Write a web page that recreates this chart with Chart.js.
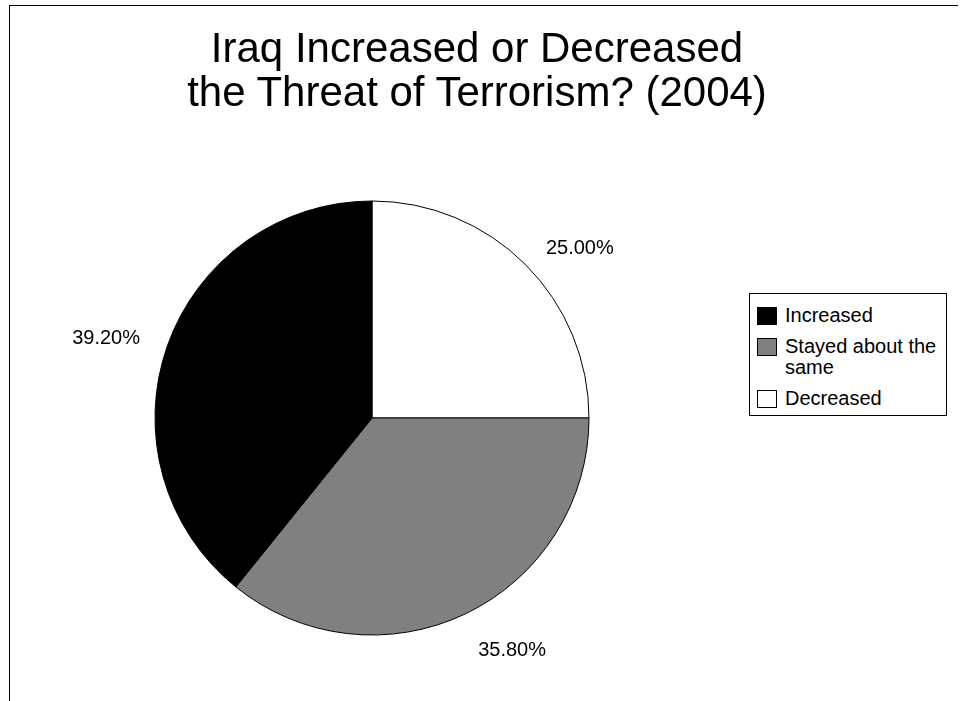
<!DOCTYPE html>
<html>
<head>
<meta charset="utf-8">
<title>Iraq Increased or Decreased the Threat of Terrorism? (2004)</title>
<script src="https://cdn.jsdelivr.net/npm/chart.js@4.4.1/dist/chart.umd.min.js"></script>
<style>
  html, body { margin: 0; padding: 0; background: #fff; }
  body { width: 961px; height: 701px; position: relative; overflow: hidden; font-family: "Liberation Sans", Arial, sans-serif; }
  #frame { position: absolute; left: 9px; top: 5px; width: 948px; height: 800px; border-top: 1px solid #000; border-left: 1px solid #000; }
  #chart { position: absolute; left: 0; top: 0; }
  #title { position: absolute; left: 0; top: 26px; width: 954px; text-align: center; font-size: 42px; line-height: 44px; color: #000; }
  #legend { position: absolute; left: 749px; top: 293px; width: 196px; border: 1px solid #000; padding: 11px 0 6px 0; background: #fff; }
  .item { display: flex; align-items: flex-start; margin-bottom: 10px; }
  .item:last-child { margin-bottom: 0; }
  .swatch { width: 18px; height: 16px; border: 1px solid #000; margin: 2px 0 0 7px; flex: none; }
  .label { width: 158px; margin-left: 8px; font-size: 20px; line-height: 21px; color: #000; }
</style>
</head>
<body>
<div id="frame"></div>
<canvas id="chart" width="961" height="701"></canvas>
<div id="title">Iraq Increased or Decreased<br>the Threat of Terrorism? (2004)</div>
<div id="legend"></div>
<script>
// data, in clockwise order from 12 o'clock
const categories = ["Decreased", "Stayed about the same", "Increased"];
const percents = [25.0, 35.8, 39.2];

const sliceColors = ["#ffffff", "#808080", "#000000"];

// draws the percentage labels outside each slice
const outsideLabels = {
  id: "outsideLabels",
  afterDatasetsDraw(chart) {
    const ctx = chart.ctx;
    const meta = chart.getDatasetMeta(0);
    ctx.save();
    ctx.font = "20px 'Liberation Sans', Arial, sans-serif";
    ctx.fillStyle = "#000";
    ctx.textAlign = "center";
    ctx.textBaseline = "middle";
    meta.data.forEach(function (arc, i) {
      const p = arc.getProps(["x", "y", "startAngle", "endAngle", "outerRadius"], true);
      const mid = (p.startAngle + p.endAngle) / 2;
      const dx = Math.cos(mid);
      const dy = Math.sin(mid);
      const text = percents[i].toFixed(2) + "%";
      const w = ctx.measureText(text).width;
      const h = 14;
      const lx = p.x + dx * (p.outerRadius + 29) + Math.sign(dx) * w / 2;
      const ly = p.y + dy * (p.outerRadius + 24) + Math.sign(dy) * h / 2;
      ctx.fillText(text, lx, ly + 8);
    });
    ctx.restore();
  }
};

new Chart(document.getElementById("chart").getContext("2d"), {
  type: "pie",
  data: {
    labels: categories,
    datasets: [{
      data: percents,
      backgroundColor: sliceColors,
      borderColor: "#000",
      borderWidth: 1,
      radius: 217
    }]
  },
  options: {
    responsive: false,
    animation: false,
    devicePixelRatio: 1,
    layout: { padding: { left: 155, right: 372, top: 201, bottom: 66 } },
    plugins: {
      legend: { display: false },
      title: { display: false },
      tooltip: { enabled: false }
    }
  },
  plugins: [outsideLabels]
});

// legend is listed in reverse of the drawing order
const legend = document.getElementById("legend");
for (let i = categories.length - 1; i >= 0; i--) {
  const row = document.createElement("div");
  row.className = "item";
  const sw = document.createElement("div");
  sw.className = "swatch";
  sw.style.background = sliceColors[i];
  const lb = document.createElement("div");
  lb.className = "label";
  lb.textContent = categories[i];
  row.appendChild(sw);
  row.appendChild(lb);
  legend.appendChild(row);
}
</script>
</body>
</html>
